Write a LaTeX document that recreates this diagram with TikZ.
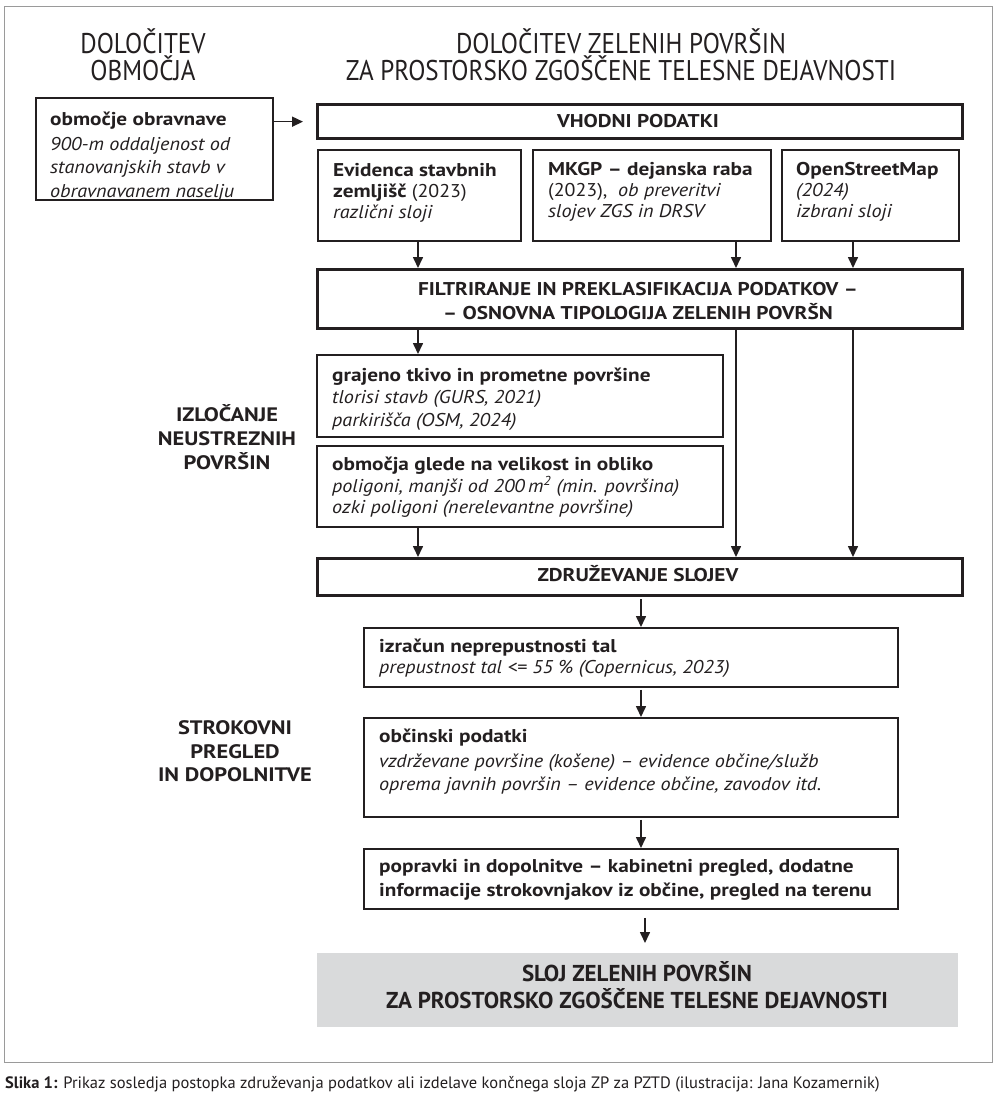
\documentclass[tikz,border=0pt]{standalone}
\usepackage{fontspec}
\setmainfont{PT Sans}[UprightFeatures={FakeStretch=1.08}, BoldFeatures={FakeStretch=1.15}, ItalicFeatures={FakeStretch=1.09}, BoldItalicFeatures={FakeStretch=1.15}]
\newfontfamily\plainfont{PT Sans}
\newfontfamily\hdfont[FakeStretch=0.88]{PT Sans}
\usetikzlibrary{arrows.meta}
\definecolor{ink}{HTML}{231F20}
\definecolor{framec}{HTML}{9A9A9A}
\definecolor{fillg}{HTML}{D9DADB}
\newcommand\Bx[6]{\node[#6, anchor=north west, minimum width={#4-#2}, minimum height={#5-#3}] (#1) at (#2,#3) {};}
\newcommand\Ln[4]{\node[ln] (#1) at (#2,#3) {#4};}
\newcommand\Lc[4]{\node[lnc] (#1) at (#2,#3) {#4};}
\begin{document}
\begin{tikzpicture}[x=1pt,y=-1pt,
  thinbox/.style={draw=ink, line width=1.8pt, inner sep=0pt},
  thickbox/.style={draw=ink, line width=3.3pt, inner sep=0pt},
  greybox/.style={fill=fillg, inner sep=0pt},
  ln/.style={anchor=base west, inner sep=0pt, text=ink, font=\fontsize{18.5}{21}\selectfont},
  lnc/.style={ln, anchor=base},
  hd/.style={anchor=base, inner sep=0pt, text=ink, font=\hdfont\fontsize{28.5}{30}\selectfont},
  lab/.style={anchor=base, inner sep=0pt, text=ink, font=\bfseries\fontsize{19.5}{22}\selectfont},
  fintext/.style={anchor=base, inner sep=0pt, text=ink, font=\plainfont\bfseries\fontsize{23}{26}\selectfont},
  arr/.style={-{Triangle[length=11pt,width=10pt]}, line width=1.6pt, draw=ink}]
\fill[white] (0,0) rectangle (997,1096);
\useasboundingbox (0,0) rectangle (997,1096);
\draw[framec, line width=1pt] (4.5,6) rectangle (992,1062);
% headers
\node[hd] (hl1) at (143,53) {DOLOČITEV};
\node[hd] (hl2) at (143,80) {OBMOČJA};
\node[hd] (hr1) at (621,53) {DOLOČITEV ZELENIH POVRŠIN};
\node[hd] (hr2) at (621,80) {ZA PROSTORSKO ZGOŠČENE TELESNE DEJAVNOSTI};
% boxes
\Bx{lbox}{35}{97}{272}{199}{thinbox}
\Bx{vhod}{316}{103}{961}{137}{thickbox}
\Bx{evid}{317}{149}{520}{240}{thinbox}
\Bx{mkgp}{532}{149}{770}{240}{thinbox}
\Bx{osm}{781}{149}{958}{240}{thinbox}
\Bx{filt}{316}{268}{961}{327}{thickbox}
\Bx{graj}{316}{354}{722}{436}{thinbox}
\Bx{obm}{316}{445}{722}{526}{thinbox}
\Bx{zdr}{316}{557}{961}{594}{thickbox}
\Bx{izr}{363}{627}{897}{686}{thinbox}
\Bx{obc}{363}{717}{897}{816}{thinbox}
\Bx{pop}{363}{848}{897}{908}{thinbox}
\Bx{fin}{317}{953}{958}{1027}{greybox}
% texts
\Ln{l1}{50}{125}{\textbf{območje obravnave}}
\Ln{l2}{50}{150}{\textit{900-m oddaljenost od}}
\Ln{l3}{50}{173}{\textit{stanovanjskih stavb v}}
\Ln{l4}{50}{197}{\textit{obravnavanem naselju}}
\Lc{v1}{638}{127}{\textbf{VHODNI PODATKI}}
\Ln{e1}{333}{176}{\textbf{Evidenca stavbnih}}
\Ln{e2}{333}{197}{\textbf{zemljišč} (2023)}
\Ln{e3}{333}{218}{\textit{različni sloji}}
\Ln{m1}{548}{175}{\textbf{MKGP – dejanska raba}}
\Ln{m2}{548}{196}{(2023), \ \textit{ob preveritvi}}
\Ln{m3}{548}{217}{\textit{slojev ZGS in DRSV}}
\Ln{o1}{796}{175}{\textbf{OpenStreetMap}}
\Ln{o2}{796}{196}{\textit{(2024)}}
\Ln{o3}{796}{217}{\textit{izbrani sloji}}
\Lc{f1}{638}{295}{\textbf{FILTRIRANJE IN PREKLASIFIKACIJA PODATKOV –}}
\Lc{f2}{638}{319}{\textbf{– OSNOVNA TIPOLOGIJA ZELENIH POVRŠN}}
\Ln{g1}{332}{381}{\textbf{grajeno tkivo in prometne površine}}
\Ln{g2}{332}{403}{\textit{tlorisi stavb (GURS, 2021)}}
\Ln{g3}{332}{426}{\textit{parkirišča (OSM, 2024)}}
\Ln{b1}{332}{470}{\textbf{območja glede na velikost in obliko}}
\Ln{b2}{332}{492}{\textit{poligoni, manjši od 200\,m\textsuperscript{2} (min. površina)}}
\Ln{b3}{332}{513}{\textit{ozki poligoni (nerelevantne površine)}}
\Lc{z1}{638}{581}{\textbf{ZDRUŽEVANJE SLOJEV}}
\Ln{i1}{379}{652}{\textbf{izračun neprepustnosti tal}}
\Ln{i2}{379}{673}{\textit{prepustnost tal <= 55 \% (Copernicus, 2023)}}
\Ln{c1}{379}{742}{\textbf{občinski podatki}}
\Ln{c2}{379}{767}{\textit{vzdrževane površine (košene) – evidence občine/služb}}
\Ln{c3}{379}{790}{\textit{oprema javnih površin – evidence občine, zavodov itd.}}
\Ln{p1}{379}{872}{\textbf{popravki in dopolnitve – kabinetni pregled, dodatne}}
\Ln{p2}{379}{896}{\textbf{informacije strokovnjakov iz občine, pregled na terenu}}
\node[fintext] (s1) at (637,981) {SLOJ ZELENIH POVRŠIN};
\node[fintext] (s2) at (637,1008) {ZA PROSTORSKO ZGOŠČENE TELESNE DEJAVNOSTI};
% side labels
\node[lab] (a1) at (227,421) {IZLOČANJE};
\node[lab] (a2) at (227,445) {NEUSTREZNIH};
\node[lab] (a3) at (227,469) {POVRŠIN};
\node[lab] (k1) at (235,734) {STROKOVNI};
\node[lab] (k2) at (235,758) {PREGLED};
\node[lab] (k3) at (235,781) {IN DOPOLNITVE};
% caption
\node[anchor=base west, inner sep=0pt, text=ink, font=\plainfont\fontsize{16.5}{18}\selectfont] (cap) at (5,1088) {\textbf{Slika 1:} Prikaz sosledja postopka združevanja podatkov ali izdelave končnega sloja ZP za PZTD (ilustracija: Jana Kozamernik)};
% connector columns
\coordinate (cA) at (418,0);
\coordinate (cB) at (736,0);
\coordinate (cC) at (853,0);
\coordinate (cD) at (641,0);
\coordinate (cE) at (645,0);
% connectors
\draw[arr] (lbox.east |- vhod.west) -- ([xshift=-13pt]vhod.west);
\draw[arr] (evid.south -| cA) -- (filt.north -| cA);
\draw[arr] (mkgp.south -| cB) -- (filt.north -| cB);
\draw[arr] (osm.south -| cC) -- (filt.north -| cC);
\draw[arr] (filt.south -| cA) -- (graj.north -| cA);
\draw[arr] (obm.south -| cA) -- (zdr.north -| cA);
\draw[arr] (filt.south -| cB) -- (zdr.north -| cB);
\draw[arr] (filt.south -| cC) -- (zdr.north -| cC);
\draw[arr, shorten <=2pt] (zdr.south -| cD) -- (izr.north -| cD);
\draw[arr, shorten <=2pt] (izr.south -| cD) -- (obc.north -| cD);
\draw[arr, shorten <=2pt] (obc.south -| cD) -- (pop.north -| cD);
\draw[arr, shorten <=8pt, shorten >=10pt] (pop.south -| cE) -- (fin.north -| cE);
\end{tikzpicture}
\end{document}
